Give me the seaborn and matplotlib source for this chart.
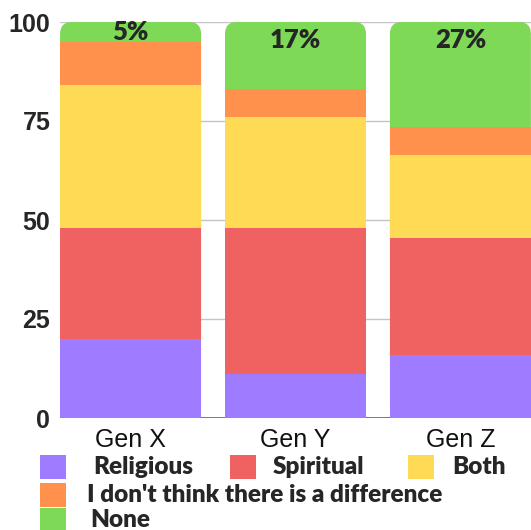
import numpy as np
import pandas as pd
import matplotlib.pyplot as plt
import seaborn as sns
from matplotlib.patches import FancyBboxPatch, Rectangle

# Data
generations = ["Gen X", "Gen Y", "Gen Z"]
religious = [20, 11, 16]
spiritual = [28, 37, 29.5]
both = [36, 28, 21]
no_difference = [11, 7, 7]
none = [5, 17, 26.5]
none_labels = ["5%", "17%", "27%"]

categories = ["Religious", "Spiritual", "Both",
              "I don't think there is a difference", "None"]
colors = ["#9E7BFF", "#F06262", "#FFDA55", "#FF914D", "#7ED957"]

sns.set_style("white")
plt.rcParams["font.family"] = ["Liberation Sans", "DejaVu Sans"]

layers = [religious, spiritual, both, no_difference, none]
cumul = np.cumsum(np.array(layers), axis=0)

fig = plt.figure(figsize=(5.31, 5.30), dpi=100)
ax = fig.add_axes([60 / 531, 112 / 530, 471 / 531, 396 / 530])

bar_w = 0.855
# stacked bars drawn from the top layer down, lower layers overlay
for i in range(len(layers) - 1, -1, -1):
    df = pd.DataFrame({"gen": generations, "value": cumul[i]})
    sns.barplot(data=df, x="gen", y="value", color=colors[i], saturation=1,
                width=bar_w, ax=ax, linewidth=0, edgecolor="none",
                zorder=2 + (len(layers) - i))
    if i == len(layers) - 1:
        top_bars = list(ax.patches)

ax.set_xlim(-0.428, 2.428)
ax.set_ylim(0, 100)

# rounded top corners for the top segment
px_x = 471 / (ax.get_xlim()[1] - ax.get_xlim()[0])
px_y = 396 / 100
for p in top_bars:
    x, w, h = p.get_x(), p.get_width(), p.get_height()
    z = p.get_zorder()
    fc = p.get_facecolor()
    p.remove()
    r = 12 / px_x
    fb = FancyBboxPatch((x, 0), w, h, boxstyle=f"round,pad=0,rounding_size={r}",
                        mutation_aspect=px_x / px_y, facecolor=fc,
                        edgecolor="none", linewidth=0, zorder=z)
    ax.add_patch(fb)

# percentage labels for "None"
for i, lab in enumerate(none_labels):
    y = 100 - min(none[i], 9) / 2
    ax.text(i, y, lab, ha="center", va="center", fontsize=18.5,
            fontweight="heavy", family=["Lato", "DejaVu Sans"], zorder=20)

ax.set_yticks([0, 25, 50, 75, 100])
ax.yaxis.grid(True, color="#c4c4c4", linewidth=1, zorder=0)
ax.set_axisbelow(True)
ax.axhline(0, color="#666666", linewidth=1.2, zorder=1)
sns.despine(ax=ax, left=True, bottom=True)
ax.tick_params(axis="both", length=0)
ax.tick_params(axis="y", pad=7)
ax.tick_params(axis="x", pad=7)
for t in ax.get_yticklabels():
    t.set_fontsize(18)
    t.set_fontweight("bold")
for t in ax.get_xticklabels():
    t.set_fontsize(18)
    t.set_color("#111111")
ax.set_xlabel("")
ax.set_ylabel("")

# legend laid out like the reference (3 items, then 1, then 1)
legend_pos = [(40, 467, 93), (230, 467, 273), (408, 467, 452),
              (40, 495, 87), (40, 520, 90)]
for cat, col, (px, py, tx) in zip(categories, colors, legend_pos):
    fig.add_artist(Rectangle((px / 531, 1 - (py + 12) / 530), 26 / 531, 24 / 530,
                             transform=fig.transFigure, facecolor=col,
                             edgecolor="none"))
    fig.text(tx / 531, 1 - py / 530, cat, ha="left", va="center",
             fontsize=17.5, fontweight="heavy", family=["Lato", "DejaVu Sans"])

fig.savefig("out.png", dpi=100)
